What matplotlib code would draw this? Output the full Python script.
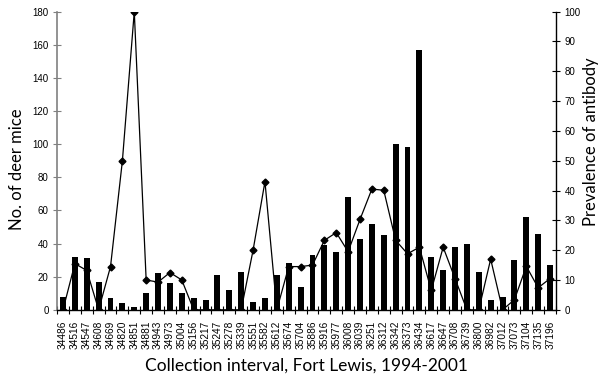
import matplotlib.pyplot as plt
import numpy as np

# collection interval (day numbers)
intervals = ['34486', '34516', '34547', '34608', '34669', '34820', '34851', '34881',
             '34943', '34973', '35004', '35156', '35217', '35247', '35278', '35339',
             '35551', '35582', '35612', '35674', '35704', '35886', '35916', '35977',
             '36008', '36039', '36251', '36312', '36342', '36373', '36434', '36617',
             '36647', '36708', '36739', '36800', '36982', '37012', '37073', '37104',
             '37135', '37196']

# number of deer mice (bars, left axis)
mice = [8, 32, 31, 17, 7, 4, 1.5, 10, 22, 16, 10, 7, 6, 21, 12, 23, 5, 7, 21, 28, 14,
        33, 39, 35, 68, 43, 52, 45, 100, 98, 157, 32, 24, 38, 40, 23, 6, 8, 30, 56,
        46, 27]

# prevalence of antibody in % (line, right axis)
prevalence = [0, 15.5, 13.2, 0, 14.5, 50, 100, 10, 9.3, 12.5, 10, 0, 0, 0, 0, 0,
              20, 43, 0, 14.5, 14.5, 15, 23.3, 25.9, 19.5, 30.3, 40.5, 40.1, 23.3,
              18.8, 21, 6.5, 21, 10.5, 0, 0, 17, 0, 3.4, 14.6, 7.4, 10.5]

x = np.arange(len(intervals))

fig = plt.figure(figsize=(6.07, 3.76), dpi=100)
ax = fig.add_axes([0.094, 0.176, 0.822, 0.793])
ax2 = ax.twinx()

# bars sit in front of the line, like the original
ax.set_zorder(ax2.get_zorder() + 1)
ax.patch.set_visible(False)

ax.bar(x, mice, width=0.5, color='black', zorder=3)
ax.set_xlim(-0.5, len(intervals) - 0.5)
ax.set_ylim(0, 180)
ax.set_yticks(range(0, 181, 20))
ax.set_ylabel('No. of deer mice', family='Lato', fontsize=12)
ax.yaxis.set_label_coords(-0.064, 0.47)
ax.set_xlabel('Collection interval, Fort Lewis, 1994-2001', family='Lato', fontsize=12.5, labelpad=6)

ax.set_xticks(x)
ax.set_xticklabels(intervals, rotation=90, family='Liberation Sans', fontsize=7.3)
ax.set_xticks(np.arange(-0.5, len(intervals)), minor=True)
ax.tick_params(axis='x', which='major', length=0, pad=8)
ax.tick_params(axis='x', which='minor', length=6, direction='inout', width=0.8)
ax.tick_params(axis='y', length=6, direction='inout', width=0.8, color='#808080',
               labelsize=7, pad=3)
for lab in ax.get_yticklabels():
    lab.set_family('Liberation Sans')

ax.spines['top'].set_visible(False)
ax.spines['right'].set_visible(False)
ax.spines['left'].set_color('#808080')
ax.spines['left'].set_linewidth(1.2)
ax.spines['bottom'].set_linewidth(1.0)

ax2.plot(x, prevalence, color='black', lw=0.9, marker='D', ms=3.5)
ax2.set_xlim(-0.5, len(intervals) - 0.5)
ax2.set_ylim(0, 100)
ax2.set_yticks(range(0, 101, 10))
ax2.set_ylabel('Prevalence of antibody', family='Lato', fontsize=12)
ax2.yaxis.set_label_coords(1.054, 0.565)
ax2.tick_params(axis='y', length=6, direction='inout', width=0.8, labelsize=7, pad=3)
for lab in ax2.get_yticklabels():
    lab.set_family('Liberation Sans')
ax2.spines['top'].set_visible(False)
ax2.spines['left'].set_visible(False)
ax2.spines['bottom'].set_visible(False)
ax2.spines['right'].set_linewidth(1.0)

fig.savefig('out.png', dpi=100)
